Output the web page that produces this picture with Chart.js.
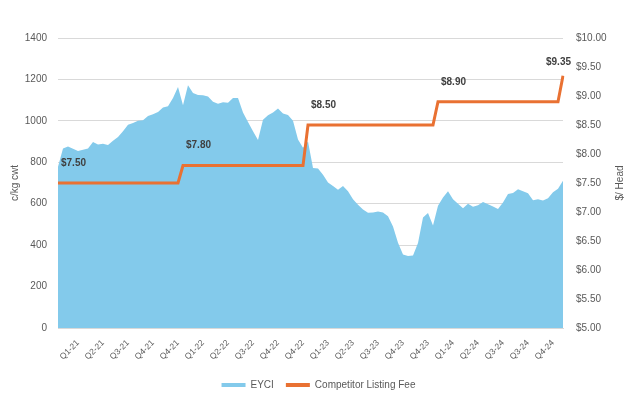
<!DOCTYPE html>
<html>
<head>
<meta charset="utf-8">
<script src="https://cdn.jsdelivr.net/npm/chart.js@4.4.1/dist/chart.umd.min.js"></script>
<style>
  html, body { margin: 0; padding: 0; background: #fff; }
  #wrap { width: 637px; height: 400px; }
</style>
</head>
<body>
<div id="wrap"><canvas id="eyciChart" width="637" height="400"></canvas></div>
<script>
// quarter labels shown under the x axis (one every 5 points)
const quarters = ['Q1-21', 'Q2-21', 'Q3-21', 'Q4-21', 'Q4-21', 'Q1-22', 'Q2-22', 'Q3-22', 'Q4-22', 'Q4-22',
  'Q1-23', 'Q2-23', 'Q3-23', 'Q4-23', 'Q4-23', 'Q1-24', 'Q2-24', 'Q3-24', 'Q3-24', 'Q4-24'];

// EYCI, c/kg cwt
const eyci = [779, 866, 876, 865, 855, 860, 866, 898, 886, 889,
  884, 904, 922, 950, 981, 990, 1000, 1003, 1024, 1032,
  1043, 1064, 1071, 1110, 1163, 1075, 1172, 1135, 1125, 1124,
  1118, 1092, 1082, 1090, 1087, 1110, 1110, 1040, 995, 950,
  908, 1005, 1027, 1040, 1060, 1035, 1028, 1000, 910, 870,
  900, 772, 770, 740, 702, 685, 667, 685, 660, 622,
  595, 572, 556, 557, 563, 558, 540, 490, 412, 355,
  348, 350, 410, 533, 555, 495, 590, 630, 660, 622,
  600, 578, 600, 585, 592, 608, 598, 586, 574, 606,
  647, 652, 670, 660, 650, 617, 621, 616, 626, 655,
  672, 711];

// competitor listing fee, $/head
const fee = [7.5, 7.5, 7.5, 7.5, 7.5, 7.5, 7.5, 7.5, 7.5, 7.5,
  7.5, 7.5, 7.5, 7.5, 7.5, 7.5, 7.5, 7.5, 7.5, 7.5,
  7.5, 7.5, 7.5, 7.5, 7.5, 7.8, 7.8, 7.8, 7.8, 7.8,
  7.8, 7.8, 7.8, 7.8, 7.8, 7.8, 7.8, 7.8, 7.8, 7.8,
  7.8, 7.8, 7.8, 7.8, 7.8, 7.8, 7.8, 7.8, 7.8, 7.8,
  8.5, 8.5, 8.5, 8.5, 8.5, 8.5, 8.5, 8.5, 8.5, 8.5,
  8.5, 8.5, 8.5, 8.5, 8.5, 8.5, 8.5, 8.5, 8.5, 8.5,
  8.5, 8.5, 8.5, 8.5, 8.5, 8.5, 8.9, 8.9, 8.9, 8.9,
  8.9, 8.9, 8.9, 8.9, 8.9, 8.9, 8.9, 8.9, 8.9, 8.9,
  8.9, 8.9, 8.9, 8.9, 8.9, 8.9, 8.9, 8.9, 8.9, 8.9,
  8.9, 9.35];

const leftTicks = [0, 200, 400, 600, 800, 1000, 1200, 1400];
const rightTicks = [5, 5.5, 6, 6.5, 7, 7.5, 8, 8.5, 9, 9.5, 10];

const FONT = "'Liberation Sans', Arial, sans-serif";
const GREY = '#595959';

// one label every 5 points, starting at point 4
const labels = eyci.map((v, i) => (i >= 4 && (i - 4) % 5 === 0) ? (quarters[(i - 4) / 5] || '') : '');

// "$7.50" style labels where the fee changes
const feeLabels = {
  id: 'feeLabels',
  afterDatasetsDraw(chart) {
    const ctx = chart.ctx;
    const meta = chart.getDatasetMeta(1);
    const area = chart.chartArea;
    ctx.save();
    ctx.font = 'bold 10px ' + FONT;
    ctx.fillStyle = '#404040';
    ctx.textBaseline = 'middle';
    ctx.textAlign = 'left';
    fee.forEach((v, i) => {
      if (i > 0 && v === fee[i - 1]) return;
      const pt = meta.data[i];
      const txt = '$' + v.toFixed(2);
      const w = ctx.measureText(txt).width;
      let x = pt.x + 3;
      let dy = 20;
      if (x + w > area.right + 8) { x = area.right + 8 - w; dy = 13; }
      ctx.fillText(txt, x, pt.y - dy);
    });
    ctx.restore();
  }
};

// right axis title reads bottom-to-top like the left one
const rightTitle = {
  id: 'rightTitle',
  afterDraw(chart) {
    const ctx = chart.ctx;
    const s = chart.scales.y1;
    ctx.save();
    ctx.font = '10px ' + FONT;
    ctx.fillStyle = GREY;
    ctx.textAlign = 'center';
    ctx.textBaseline = 'middle';
    ctx.translate(s.right - 17, (s.top + s.bottom) / 2);
    ctx.rotate(-Math.PI / 2);
    ctx.fillText('$/ Head', 0, 0);
    ctx.restore();
  }
};

new Chart(document.getElementById('eyciChart'), {
  type: 'line',
  data: {
    labels: labels,
    datasets: [
      {
        label: 'EYCI',
        data: eyci,
        yAxisID: 'y',
        backgroundColor: '#83CAEB',
        borderColor: '#83CAEB',
        borderWidth: 0,
        pointRadius: 0,
        fill: 'origin',
        tension: 0,
        order: 2
      },
      {
        label: 'Competitor Listing Fee',
        data: fee,
        yAxisID: 'y1',
        borderColor: '#E97132',
        backgroundColor: '#E97132',
        borderWidth: 3,
        pointRadius: 0,
        fill: false,
        tension: 0,
        order: 1
      }
    ]
  },
  options: {
    responsive: false,
    animation: false,
    layout: { padding: { top: 38, left: 0, right: 0, bottom: 0 } },
    plugins: {
      tooltip: { enabled: false },
      legend: {
        position: 'bottom',
        labels: {
          font: { family: FONT, size: 10 },
          color: GREY,
          boxWidth: 24,
          boxHeight: 4,
          padding: 12,
          sort: (a, b) => a.datasetIndex - b.datasetIndex,
          generateLabels(chart) {
            return chart.data.datasets.map((ds, i) => ({
              text: ds.label,
              fillStyle: ds.backgroundColor,
              strokeStyle: ds.backgroundColor,
              lineWidth: 0,
              fontColor: GREY,
              datasetIndex: i
            }));
          }
        }
      }
    },
    scales: {
      x: {
        grid: { display: false, drawTicks: false },
        border: { display: true, color: '#d9d9d9' },
        ticks: {
          autoSkip: false,
          minRotation: 45,
          maxRotation: 45,
          padding: 10,
          color: GREY,
          font: { family: FONT, size: 8.5 },
          callback: (v, i) => labels[i] || null
        },
        afterFit: s => { s.height = 40; }
      },
      y: {
        position: 'left',
        min: 0,
        max: 1400,
        afterBuildTicks: s => { s.ticks = leftTicks.map(v => ({ value: v })); },
        grid: { color: '#d9d9d9', drawTicks: false },
        border: { display: false },
        ticks: { padding: 11, color: GREY, font: { family: FONT, size: 10 }, callback: v => String(v) },
        title: { display: true, text: 'c/kg cwt', color: GREY, font: { family: FONT, size: 10 }, padding: { top: 9, bottom: 0 } },
        afterFit: s => { s.width = 58; }
      },
      y1: {
        position: 'right',
        min: 5,
        max: 10,
        afterBuildTicks: s => { s.ticks = rightTicks.map(v => ({ value: v })); },
        grid: { display: false, drawTicks: false },
        border: { display: false },
        ticks: {
          padding: 13,
          color: GREY,
          font: { family: FONT, size: 10 },
          callback: v => '$' + Number(v).toFixed(2)
        },
        title: { display: false },
        afterFit: s => { s.width = 74; }
      }
    }
  },
  plugins: [feeLabels, rightTitle]
});
</script>
</body>
</html>
